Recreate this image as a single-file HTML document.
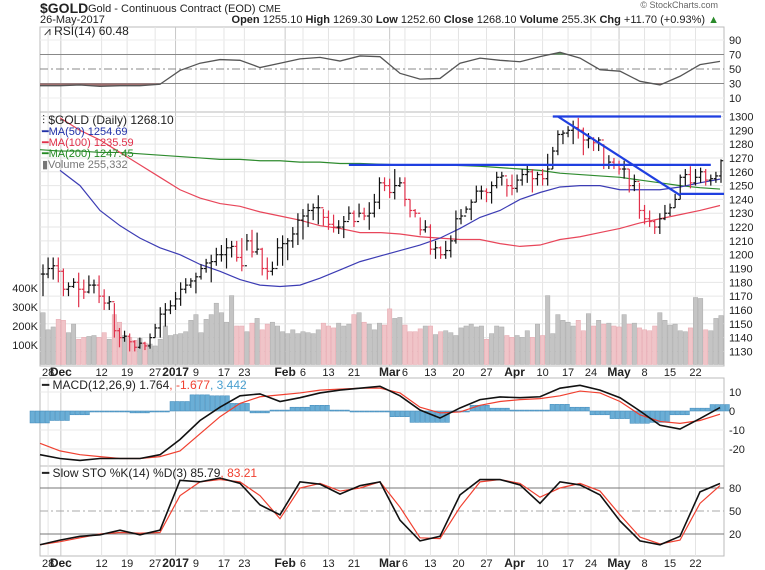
<!DOCTYPE html>
<html><head><meta charset="utf-8">
<style>
html,body{margin:0;padding:0;background:#fff;}
svg{display:block;font-family:"Liberation Sans",sans-serif;}
text{font-size:11px;fill:#222;}
</style></head>
<body>
<svg id="chart" width="765" height="570" viewBox="0 0 765 570" xmlns="http://www.w3.org/2000/svg" style="position:absolute;left:0;top:0">
<g>
<text x="40" y="13" style="font-size:14px;font-weight:bold">$GOLD</text>
<text x="88" y="12" style="font-size:11px">Gold - Continuous Contract (EOD) <tspan style="font-size:10px">CME</tspan></text>
<text x="40" y="23" style="font-size:11px">26-May-2017</text>
<text x="719" y="23" text-anchor="end" style="font-size:11px"><tspan font-weight="bold">Open</tspan> 1255.10 <tspan font-weight="bold">High</tspan> 1269.30 <tspan font-weight="bold">Low</tspan> 1252.60 <tspan font-weight="bold">Close</tspan> 1268.10 <tspan font-weight="bold">Volume</tspan> 255.3K <tspan font-weight="bold">Chg</tspan> +11.70 (+0.93%) <tspan style="fill:#2a8a2a">▲</tspan></text>
<text x="718" y="8" text-anchor="end" style="font-size:9px;fill:#666">© StockCharts.com</text>
</g>
<g id="grid"></g>
<g id="marks"></g>
<g id="labels"></g>
<g><text x="44" y="35" style="font-size:12px;fill:#222">⩘ RSI(14) 60.48</text></g>
<g>
<text x="42" y="124" style="font-size:12px;fill:#222">⫶ $GOLD (Daily) 1268.10</text>
<text x="42" y="135" style="font-size:11px;fill:#2030a8">━MA(50) 1254.69</text>
<text x="42" y="146" style="font-size:11px;fill:#e0304a">━MA(100) 1235.59</text>
<text x="42" y="157" style="font-size:11px;fill:#228822">━MA(200) 1247.45</text>
<text x="42" y="168" style="font-size:11px;fill:#777">▮Volume 255,332</text>
</g>
<g><text x="42" y="389" style="font-size:12px;fill:#222">━ MACD(12,26,9) 1.764<tspan fill="#f04030">, -1.677</tspan><tspan fill="#4aa0d0">, 3.442</tspan></text></g>
<g><text x="42" y="477" style="font-size:12px;fill:#222">━ Slow STO %K(14) %D(3) 85.79<tspan fill="#f04030">, 83.21</tspan></text></g>
</svg>
<script>
// ---------- data ----------
const highs=[1193,1198,1198,1198,1190,1180,1183,1187,1182,1185,1182,1185,1175,1170,1165,1147,1145,1143,1138,1140,1137,1143,1150,1162,1165,1167,1173,1180,1183,1183,1187,1193,1197,1200,1205,1207,1212,1210,1210,1212,1215,1218,1216,1205,1198,1195,1212,1214,1212,1220,1230,1233,1237,1237,1243,1233,1232,1229,1225,1228,1235,1232,1237,1234,1238,1244,1256,1256,1255,1262,1256,1256,1240,1233,1227,1225,1222,1210,1206,1210,1214,1232,1233,1235,1240,1250,1250,1248,1253,1260,1260,1255,1258,1258,1262,1265,1262,1260,1262,1273,1278,1290,1290,1293,1297,1299,1292,1288,1285,1285,1280,1272,1270,1268,1268,1262,1258,1252,1236,1232,1225,1230,1236,1237,1244,1258,1262,1264,1262,1263,1262,1258,1260,1269];
const lows=[1170,1183,1182,1180,1170,1170,1176,1162,1168,1172,1172,1165,1160,1160,1140,1133,1137,1130,1130,1132,1131,1132,1140,1140,1148,1157,1160,1163,1172,1176,1172,1182,1187,1180,1192,1195,1190,1198,1195,1188,1203,1198,1200,1185,1182,1185,1192,1192,1196,1205,1207,1211,1220,1225,1222,1221,1218,1216,1215,1212,1225,1220,1227,1225,1218,1227,1233,1246,1241,1240,1249,1235,1227,1227,1214,1216,1200,1197,1197,1197,1198,1208,1222,1230,1225,1238,1240,1238,1237,1248,1250,1242,1243,1245,1250,1252,1245,1250,1250,1250,1262,1272,1280,1285,1280,1284,1272,1277,1275,1275,1262,1262,1262,1258,1255,1245,1246,1226,1222,1220,1215,1215,1225,1228,1234,1240,1250,1248,1250,1252,1250,1250,1252,1252];
const closes=[1186,1190,1192,1188,1175,1177,1180,1175,1173,1178,1178,1170,1165,1166,1145,1140,1141,1137,1133,1136,1134,1140,1147,1157,1160,1163,1168,1175,1178,1181,1184,1190,1194,1195,1200,1200,1205,1206,1198,1192,1210,1202,1204,1190,1188,1190,1205,1208,1210,1215,1225,1228,1232,1234,1234,1227,1222,1220,1220,1224,1230,1224,1230,1228,1230,1238,1252,1250,1245,1250,1252,1240,1232,1230,1218,1220,1204,1205,1200,1203,1210,1226,1228,1233,1238,1246,1246,1245,1250,1256,1257,1250,1248,1254,1258,1260,1255,1258,1255,1262,1275,1287,1288,1290,1292,1290,1283,1284,1281,1283,1265,1267,1265,1262,1262,1250,1253,1232,1226,1224,1220,1226,1230,1234,1240,1256,1258,1252,1256,1260,1254,1255,1257,1268];
const volumesK=[270,180,195,235,230,165,210,130,140,145,150,140,165,130,260,220,150,140,125,135,110,105,95,130,200,150,155,160,170,230,260,165,235,260,320,270,220,360,200,200,170,215,240,180,210,220,200,170,160,180,160,170,165,160,180,215,200,190,215,200,210,260,270,220,210,180,215,205,290,240,245,205,170,170,185,200,200,155,170,175,165,150,190,200,210,195,200,130,160,200,195,150,140,150,140,175,140,210,150,360,160,260,230,220,200,230,175,265,200,230,210,215,200,195,260,210,215,190,180,175,200,270,230,205,210,175,170,190,350,345,180,175,240,255];
const ma50=[null,1261,1250,1232,1221,1212,1205,1200,1193,1188,1182,1178,1177,1178,1183,1189,1195,1199,1203,1207,1212,1219,1227,1232,1240,1245,1249,1250,1250,1247,1247,1247,1249,1252,1254.7];
const ma100=[null,1299,1290,1283,1274,1265,1256,1247,1241,1237,1235,1231,1228,1225,1221,1219,1216,1216,1215,1213,1212,1211,1211,1208,1206,1207,1211,1213,1216,1219,1223,1226,1229,1232,1235.6];
const ma200=[1276,1275,1275,1274,1274,1273,1272,1271,1270,1269,1269,1268,1268,1267,1267,1266,1266,1265.5,1265,1265,1265,1264.5,1264,1263,1262,1261,1259,1258,1257,1256,1254,1252,1250,1248.5,1247.5];
const rsiVals=[27,27,28,26,27,27,29,48,58,63,62,52,58,64,66,61,68,67,44,36,37,58,65,62,60,67,73,65,49,47,33,28,40,56,60.5];
const macdVals=[-23,-25,-26,-25,-25,-25,-23,-15,-5,2,8,9,5,7,9.5,11,12,13,8,0.5,-3.7,1.6,6,7.4,7,7.5,12,13.5,11,7,0,-7.5,-9.5,-4,1.8];
const signalVals=[-17,-21,-23,-24,-25,-25,-24,-21,-12,-3,4,7.5,8.5,9.5,11,11.5,12,12,9.5,2,-1,-0.5,3,5,6,6.5,8,10.5,9.5,5,-2,-5.5,-6.5,-5,-1.7];
const histVals=[-6.3,-5,-2,-0.5,0,-1,0,5,8.5,8,4,-1,0.5,2,3,0.5,0,0,-3,-6,-6,0,3,1.5,0.5,0.5,3.5,2,-2,-4,-6.5,-6,-2,1.5,3.4];
const stoK=[6,12,17,19,25,19,25,90,88,93,86,58,45,88,85,72,83,88,38,11,17,71,91,91,84,60,88,84,71,37,11,6,17,75,85.8];
const stoD=[6,10,15,20,22,21,22,70,88,91,88,70,40,80,86,76,80,88,55,15,14,55,88,91,86,68,80,86,76,45,16,7,12,60,83.2];
const priceTicks=[1130,1140,1150,1160,1170,1180,1190,1200,1210,1220,1230,1240,1250,1260,1270,1280,1290,1300];
const volTicks=[100,200,300,400];
const dateLabels=["28","Dec","12","19","27","2017","9","17","23","Feb","6","13","21","Mar","6","13","20","27","Apr","10","17","24","May","8","15","22"];
const dateBars=[1,3.5,11.5,16.5,22,26,30,35.5,39.5,47.5,51,56,61,68,71,76,81.5,87,92.5,98,103,107.5,113,118,123,128];
const dateBold=[0,1,0,0,0,1,0,0,0,1,0,0,0,1,0,0,0,0,1,0,0,0,1,0,0,0];
const trendLines=[[100,1300,133,1300],[60,1265,131,1265],[101,1300,125,1243],[125,1244,134,1244]];

const X0=40,X1=724,N=closes.length;
const step=(X1-X0-6)/(N-1);
const xb=i=>X0+3+i*step;
const yP=p=>116.5+(1300-p)*1.382;
const yV=v=>364-v*0.19;
const yR=v=>69-(v-50)*0.725;
const yM=v=>411-v*1.9;
const yS=v=>511-(v-50)*0.767;
const xs=k=>X0+(X1-X0-4)*k/34;
const NS="http://www.w3.org/2000/svg";
function mk(tag,attrs,parent){const e=document.createElementNS(NS,tag);for(const k in attrs)e.setAttribute(k,attrs[k]);parent.appendChild(e);return e;}
const G=document.getElementById('grid'),M=document.getElementById('marks'),L=document.getElementById('labels');

const panels=[["rsi-panel",27,112],["price-panel",112,366],["macd-panel",378,466],["sto-panel",466,556]];
panels.forEach(p=>{const r=mk('rect',{x:X0,y:p[1],width:X1-X0,height:p[2]-p[1],fill:'none',stroke:'#bbb','stroke-width':1},G);

});
dateBars.forEach((b,i)=>{
 [[27,366],[378,556]].forEach(s=>{const l=mk('line',{x1:xb(b),x2:xb(b),y1:s[0],y2:s[1],stroke:dateBold[i]?'#c8c8c8':'#e4e4e4'},G);
 
 });
 [372,563].forEach(y=>{const t=mk('text',{x:xb(b),y:y+4,'text-anchor':'middle','font-weight':dateBold[i]?'bold':'normal',style:dateBold[i]?'font-size:12px':'font-size:11px'},L);
 t.textContent=dateLabels[i];
 
 });
});
priceTicks.forEach(p=>{const l=mk('line',{x1:X0,x2:X1,y1:yP(p),y2:yP(p),stroke:'#e6e6e6'},G);
 
 
 const t=mk('text',{x:729,y:yP(p)+4},L);t.textContent=p;
 
 });
volTicks.forEach(v=>{const t=mk('text',{x:38,y:yV(v)+4,'text-anchor':'end'},L);t.textContent=v+'K';
 
 });
[[90,0],[70,1],[50,2],[30,1],[10,0]].forEach(a=>{const v=a[0];
 const l=mk('line',{x1:X0,x2:X1,y1:yR(v),y2:yR(v),stroke:a[1]?'#888':'#eee','stroke-dasharray':a[1]==2?'8,3,2,3':''},G);
 
 
 const t=mk('text',{x:729,y:yR(v)+4},L);t.textContent=v;
 
 });
const rsiPts=rsiVals.map((v,k)=>xs(k)+','+yR(v)).join(' ');
const defs=mk('defs',{},M);
const c1=mk('clipPath',{id:'above70'},defs);mk('rect',{x:X0,y:0,width:X1-X0,height:yR(70)},c1);
const c2=mk('clipPath',{id:'below30'},defs);mk('rect',{x:X0,y:yR(30),width:X1-X0,height:60},c2);
const fa=mk('polygon',{points:xs(0)+','+yR(70)+' '+rsiPts+' '+xs(34)+','+yR(70),fill:'#5a9a5a','clip-path':'url(#above70)'},M);


const fb=mk('polygon',{points:xs(0)+','+yR(30)+' '+rsiPts+' '+xs(34)+','+yR(30),fill:'#a07070','clip-path':'url(#below30)'},M);


const rl=mk('polyline',{points:rsiPts,fill:'none',stroke:'#555','stroke-width':1.3},M);


volumesK.forEach((v,i)=>{const up=i==0||closes[i]>=closes[i-1];
 const r=mk('rect',{x:xb(i)-2.2,y:yV(v),width:4.4,height:364.5-yV(v),fill:up?'#c4c4c4':'#f0c4c8',stroke:up?'#aaa':'#e6a6ae','stroke-width':0.5},M);
 
 });
function maLine(arr,col,name){const pts=[];arr.forEach((v,k)=>{if(v==null)return;pts.push(xs(k)+','+yP(v));});
 const l=mk('polyline',{points:pts.join(' '),fill:'none',stroke:col,'stroke-width':1.2},M);
 
 }
maLine(ma200,'#2e8b2e','ma200-line');maLine(ma100,'#e8465a','ma100-line');maLine(ma50,'#3c3cb4','ma50-line');
closes.forEach((c,i)=>{const o=i?closes[i-1]:c;const up=c>=o;const col=up?'#111':'#e0304a';const x=xb(i);
 const g=mk('g',{stroke:col,'stroke-width':1.2},M);
 
 
 mk('line',{x1:x,x2:x,y1:yP(highs[i]),y2:yP(lows[i])},g);
 mk('line',{x1:x-2.2,x2:x,y1:yP(o),y2:yP(o)},g);
 mk('line',{x1:x,x2:x+2.2,y1:yP(c),y2:yP(c)},g);});
trendLines.forEach(t=>{const l=mk('line',{x1:xb(t[0]),y1:yP(t[1]),x2:Math.min(xb(t[2]),X1),y2:yP(t[3]),stroke:'#1f3fe0','stroke-width':2.2},M);
 
 });
[10,0,-10,-20].forEach(v=>{const l=mk('line',{x1:X0,x2:X1,y1:yM(v),y2:yM(v),stroke:'#e8e8e8'},G);
 
 
 const t=mk('text',{x:729,y:yM(v)+4},L);t.textContent=v;
 
 });
const hw=(X1-X0-4)/34;
histVals.forEach((v,k)=>{const y0=yM(0),y1=yM(v);
 for(let s=0;s<4;s++){
 const r=mk('rect',{x:xs(k)-hw/2+s*hw/4,y:Math.min(y0,y1),width:hw/4-0.6,height:Math.max(Math.abs(y1-y0),1),fill:'#6aaed6',stroke:'#3a86b8','stroke-width':0.5},M);
 
 }});
const sl=mk('polyline',{points:signalVals.map((v,k)=>xs(k)+','+yM(v)).join(' '),fill:'none',stroke:'#f04030','stroke-width':1.2},M);


const ml=mk('polyline',{points:macdVals.map((v,k)=>xs(k)+','+yM(v)).join(' '),fill:'none',stroke:'#111','stroke-width':1.6},M);


[[80,1],[50,2],[20,1]].forEach(a=>{const l=mk('line',{x1:X0,x2:X1,y1:yS(a[0]),y2:yS(a[0]),stroke:a[1]==2?'#aaa':'#777','stroke-dasharray':a[1]==2?'8,3,2,3':''},G);
 
 
 const t=mk('text',{x:729,y:yS(a[0])+4},L);t.textContent=a[0];
 
 });
const dl=mk('polyline',{points:stoD.map((v,k)=>xs(k)+','+yS(v)).join(' '),fill:'none',stroke:'#f04030','stroke-width':1.2},M);


const kl=mk('polyline',{points:stoK.map((v,k)=>xs(k)+','+yS(v)).join(' '),fill:'none',stroke:'#111','stroke-width':1.6},M);


</script>
</body></html>
